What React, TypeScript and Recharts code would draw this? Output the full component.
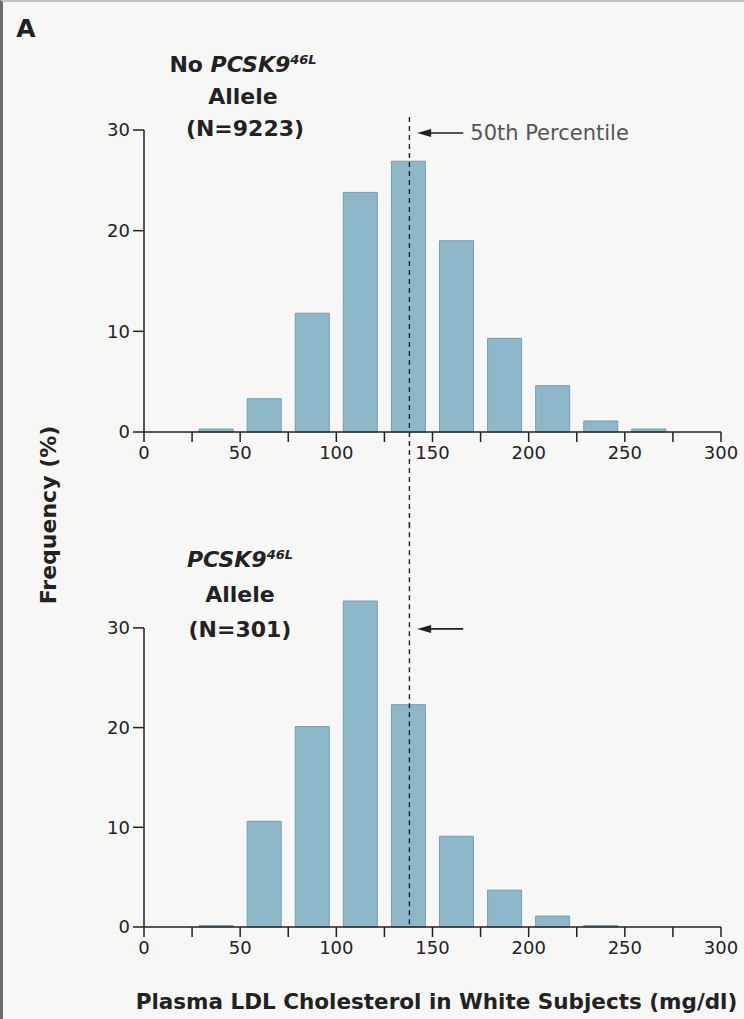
import React from 'react';
import { BarChart, Bar, XAxis, YAxis, ReferenceLine, Label } from 'recharts';

// LDL bins of 25 mg/dl, 0-300 (bar drawn at bin centre)
const binCenters = [12.5, 37.5, 62.5, 87.5, 112.5, 137.5, 162.5, 187.5, 212.5, 237.5, 262.5, 287.5];
// Frequency (%) per bin
const noAllele = [0, 0.3, 3.3, 11.8, 23.8, 26.9, 19.0, 9.3, 4.6, 1.1, 0.3, 0];
const withAllele = [0, 0.15, 10.6, 20.1, 32.7, 22.3, 9.1, 3.7, 1.1, 0.15, 0, 0];

const xTicks = [0, 25, 50, 75, 100, 125, 150, 175, 200, 225, 250, 275, 300];
const yTicks = [0, 10, 20, 30];
const median = 138;

const topData = binCenters.map((x, i) => ({ x, freq: noAllele[i] }));
const bottomData = binCenters.map((x, i) => ({ x, freq: withAllele[i] }));

const FONT = 'DejaVu Sans';
const INK = '#222';
const BAR_FILL = '#8db8ca';
const BAR_STROKE = '#739fb2';

const tickStyle = { fontSize: 18, fill: INK, fontFamily: FONT };

// left-pointing arrow drawn on a reference segment
const Arrow = (p: any) => {
  const x1 = Math.min(p.x1, p.x2);
  const x2 = Math.max(p.x1, p.x2);
  const y = p.y1;
  return (
    <g>
      <line x1={x1 + 4} y1={y} x2={x2} y2={y} stroke={INK} strokeWidth={1.6} />
      <polygon points={`${x1},${y} ${x1 + 14},${y - 4} ${x1 + 14},${y + 4}`} fill={INK} />
    </g>
  );
};

const titleStyle = { fontFamily: FONT, fontWeight: 'bold' as const, fontSize: 22, fill: INK };

const xAxisProps = {
  dataKey: 'x',
  type: 'number' as const,
  domain: [0, 300],
  ticks: xTicks,
  interval: 0,
  tickFormatter: (v: number) => (v % 50 === 0 ? String(v) : ''),
  tickSize: 10,
  tickMargin: 4,
  tick: tickStyle,
  stroke: INK,
  strokeWidth: 1.5,
};

export default function App() {
  return (
    <div
      style={{
        position: 'absolute',
        left: 0,
        top: 0,
        width: 744,
        height: 1019,
        background: '#f7f7f6',
        boxSizing: 'border-box',
        borderLeft: '3px solid #6d6d6d',
        borderTop: '2px solid #c4c4c4',
        overflow: 'hidden',
      }}
    >
      <style>{`.recharts-surface{overflow:visible}`}</style>
      <div style={{ position: 'absolute', left: -3, top: -2, width: 744, height: 525 }}>
        <BarChart
          width={744}
          height={525}
          data={topData}
          margin={{ top: 130, right: 23, bottom: 53, left: 84 }}
          barSize={34}
        >
          <XAxis {...xAxisProps} height={40} />
          <YAxis
            domain={[0, 30]}
            ticks={yTicks}
            width={60}
            tickSize={11}
            tickMargin={3}
            tick={tickStyle}
            stroke={INK}
            strokeWidth={1.5}
          />
          <Bar dataKey="freq" fill={BAR_FILL} stroke={BAR_STROKE} strokeWidth={1} isAnimationActive={false} />
          <ReferenceLine
            segment={[{ x: median, y: 31.3 }, { x: median, y: -9.3 }]}
            ifOverflow="visible"
            stroke={INK}
            strokeWidth={1.4}
            strokeDasharray="5 4"
          />
          <ReferenceLine
            segment={[{ x: 142, y: 29.7 }, { x: 166, y: 29.7 }]}
            ifOverflow="visible"
            shape={Arrow}
          >
            <Label value="50th Percentile" position="right" offset={7} fill="#555" fontSize={21} fontFamily={FONT} />
          </ReferenceLine>
          <text x={26} y={37} textAnchor="middle" fontFamily={FONT} fontWeight="bold" fontSize={25} fill={INK}>
            A
          </text>
          <text x={243} y={72} textAnchor="middle" {...titleStyle}>
            No <tspan fontStyle="italic">PCSK9</tspan>
            <tspan fontStyle="italic" fontSize={13} dy={-8}>46L</tspan>
          </text>
          <text x={243} y={104} textAnchor="middle" {...titleStyle}>Allele</text>
          <text x={245} y={136} textAnchor="middle" {...titleStyle}>(N=9223)</text>
          <text
            x={48}
            y={515}
            transform="rotate(-90 48 515)"
            textAnchor="middle"
            dominantBaseline="central"
            {...titleStyle}
          >
            Frequency (%)
          </text>
        </BarChart>
      </div>
      <div style={{ position: 'absolute', left: -3, top: 523, width: 744, height: 494 }}>
        <BarChart
          width={744}
          height={494}
          data={bottomData}
          margin={{ top: 73, right: 23, bottom: 0, left: 84 }}
          barSize={34}
        >
          <XAxis {...xAxisProps} height={92}>
            <Label
              value="Plasma LDL Cholesterol in White Subjects (mg/dl)"
              position="insideBottom"
              offset={10}
              dx={4}
              fill={INK}
              fontSize={21.5}
              fontWeight="bold"
              fontFamily={FONT}
            />
          </XAxis>
          <YAxis
            domain={[0, 33]}
            ticks={yTicks}
            width={60}
            tickSize={11}
            tickMargin={3}
            tick={tickStyle}
            axisLine={false}
            stroke={INK}
            strokeWidth={1.5}
          />
          <Bar dataKey="freq" fill={BAR_FILL} stroke={BAR_STROKE} strokeWidth={1} isAnimationActive={false} />
          <ReferenceLine
            segment={[{ x: 0, y: 0 }, { x: 0, y: 30 }]}
            ifOverflow="visible"
            stroke={INK}
            strokeWidth={1.5}
          />
          <ReferenceLine
            segment={[{ x: median, y: 40.5 }, { x: median, y: 0 }]}
            ifOverflow="visible"
            stroke={INK}
            strokeWidth={1.4}
            strokeDasharray="5 4"
          />
          <ReferenceLine
            segment={[{ x: 142, y: 29.9 }, { x: 166, y: 29.9 }]}
            ifOverflow="visible"
            shape={Arrow}
          />
          <text x={240} y={42} textAnchor="middle" {...titleStyle}>
            <tspan fontStyle="italic">PCSK9</tspan>
            <tspan fontStyle="italic" fontSize={13} dy={-8}>46L</tspan>
          </text>
          <text x={240} y={77} textAnchor="middle" {...titleStyle}>Allele</text>
          <text x={240} y={112} textAnchor="middle" {...titleStyle}>(N=301)</text>
        </BarChart>
      </div>
    </div>
  );
}
